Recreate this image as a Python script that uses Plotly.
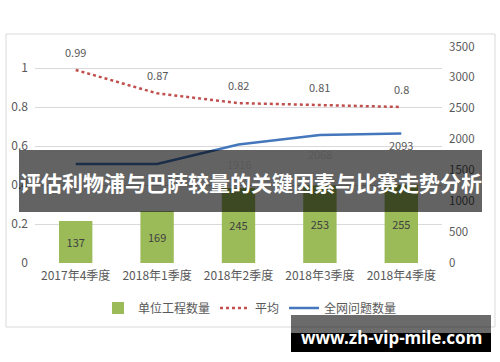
import plotly.graph_objects as go

categories = ["2017年4季度", "2018年1季度", "2018年2季度", "2018年3季度", "2018年4季度"]
unit_counts = [137, 169, 245, 253, 255]
avg_values = [0.99, 0.87, 0.82, 0.81, 0.8]
net_issues = [1600, 1600, 1916, 2068, 2093]
net_labels = [None, None, "1916", "2068", "2093"]
net_label_shift = [-20, -20, -20, -19, -11]
left_ticks = [0, 0.2, 0.4, 0.6, 0.8, 1]
left_tick_text = ["0", "0.2", "0.4", "0.6", "0.8", "1"]
right_ticks = [0, 500, 1000, 1500, 2000, 2500, 3000, 3500]

title_text = "评估利物浦与巴萨较量的关键因素与比赛走势分析"
watermark = "www.zh-vip-mile.com"

W, H = 500, 362
FONT = "Noto Sans CJK SC, Noto Sans, sans-serif"
TICK_COLOR = "#595959"

def px_x(x):
    return x / W

def px_y(y):
    return (H - y) / H

plot_top, plot_bottom = 46.5, 263
x_dom = [px_x(35), px_x(442)]
y_dom = [px_y(plot_bottom), px_y(plot_top)]
plot_h = plot_bottom - plot_top

fig = go.Figure()

fig.add_trace(go.Bar(
    x=categories, y=unit_counts, name="单位工程数量", yaxis="y3",
    marker=dict(color="#9bbb59", line=dict(width=0)),
    text=[str(v) for v in unit_counts], textposition="inside",
    insidetextanchor="middle", textangle=0,
    textfont=dict(color="#404040", size=11, family=FONT),
    width=0.41,
))
fig.add_trace(go.Scatter(
    x=categories, y=avg_values, name="平均", yaxis="y", mode="lines",
    line=dict(color="#c0504d", width=2.5, dash="dot"),
))
fig.add_trace(go.Scatter(
    x=categories, y=net_issues, name="全网问题数量", yaxis="y2", mode="lines",
    line=dict(color="#4477bb", width=2.5),
))

annotations = []
for c, v in zip(categories, avg_values):
    annotations.append(dict(x=c, y=v, xref="x", yref="y", text=f"{v:g}",
                            showarrow=False, yshift=18,
                            font=dict(color=TICK_COLOR, size=11, family=FONT)))
for c, v, lab, sh in zip(categories, net_issues, net_labels, net_label_shift):
    if lab is None:
        continue
    annotations.append(dict(x=c, y=v, xref="x", yref="y2", text=lab,
                            showarrow=False, yshift=sh,
                            font=dict(color=TICK_COLOR, size=11, family=FONT)))

annotations.append(dict(x=px_x(250.5), y=px_y(182), xref="paper", yref="paper",
                        text=f"<b>{title_text}</b>", showarrow=False,
                        xanchor="center", yanchor="middle",
                        font=dict(color="white", size=21, family=FONT)))
annotations.append(dict(x=px_x(391), y=px_y(337), xref="paper", yref="paper",
                        text=f"<b>{watermark}</b>", showarrow=False,
                        xanchor="center", yanchor="middle",
                        font=dict(color="white", size=17, family="Noto Sans, sans-serif")))

shapes = [
    dict(type="rect", xref="paper", yref="paper",
         x0=px_x(6), x1=px_x(495), y0=px_y(327), y1=px_y(34),
         line=dict(color="#d9d9d9", width=1), fillcolor="rgba(0,0,0,0)", layer="below"),
    dict(type="rect", xref="paper", yref="paper",
         x0=px_x(19), x1=px_x(482), y0=px_y(212), y1=px_y(150),
         line=dict(width=0), fillcolor="rgba(0,0,0,0.61)", layer="above"),
    dict(type="rect", xref="paper", yref="paper",
         x0=px_x(291), x1=px_x(491), y0=px_y(333), y1=px_y(315),
         line=dict(width=0), fillcolor="rgba(0,0,0,0.58)", layer="above"),
    dict(type="rect", xref="paper", yref="paper",
         x0=px_x(291), x1=px_x(491), y0=px_y(352), y1=px_y(333),
         line=dict(width=0), fillcolor="#000000", layer="above"),
]

fig.update_layout(
    width=W, height=H,
    margin=dict(l=0, r=0, t=0, b=0, pad=0, autoexpand=False),
    paper_bgcolor="white", plot_bgcolor="white",
    font=dict(family=FONT, size=11, color=TICK_COLOR),
    showlegend=True,
    legend=dict(orientation="h", x=0.5, xanchor="center", y=px_y(308), yanchor="middle",
                font=dict(size=12, color=TICK_COLOR, family=FONT),
                itemwidth=30, bgcolor="rgba(0,0,0,0)", traceorder="normal"),
    xaxis=dict(domain=x_dom, type="category", range=[-0.5, 4.5], automargin=False,
               showgrid=False, zeroline=False, showline=False, ticks="",
               ticklabelstandoff=4,
               tickfont=dict(size=12, color=TICK_COLOR, family=FONT)),
    yaxis=dict(domain=y_dom, range=[0, 1.0 * plot_h / (plot_bottom - 68)],
               tickvals=left_ticks, ticktext=left_tick_text, automargin=False,
               showgrid=True, gridcolor="#d9d9d9", gridwidth=1,
               zeroline=False, showline=False, ticks="", ticklabelstandoff=6,
               tickfont=dict(size=12, color=TICK_COLOR, family=FONT)),
    yaxis2=dict(overlaying="y", side="right", range=[0, 3500], tickvals=right_ticks,
                automargin=False, ticklabelstandoff=6,
                showgrid=False, zeroline=False, showline=False, ticks="",
                tickfont=dict(size=11.5, color=TICK_COLOR, family=FONT)),
    yaxis3=dict(overlaying="y", range=[0, 137 * plot_h / 42], visible=False,
                automargin=False, showgrid=False, zeroline=False),
    bargap=0.6,
    annotations=annotations,
    shapes=shapes,
)

fig.write_html("out.html")
